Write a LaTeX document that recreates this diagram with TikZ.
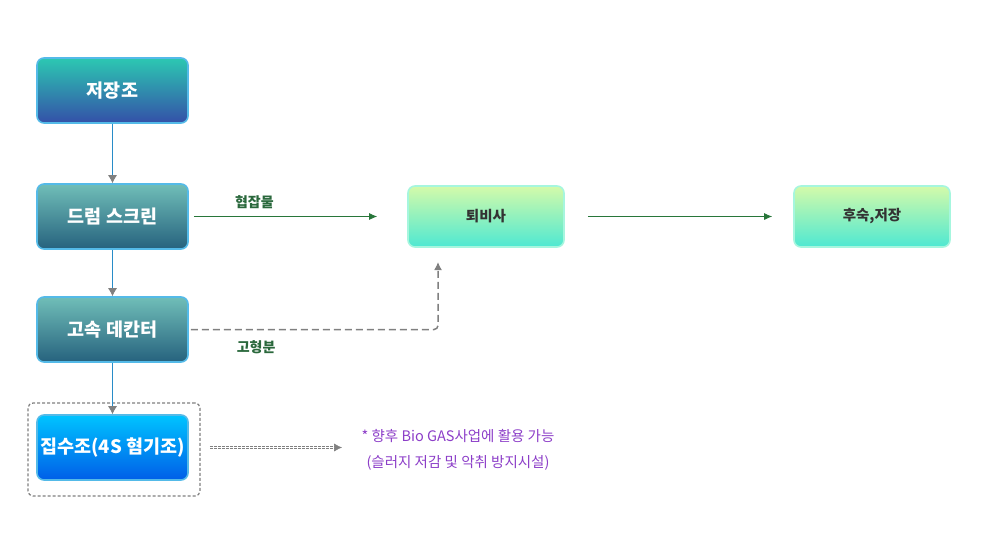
\documentclass[tikz,border=0pt]{standalone}
\usepackage{fontspec}
\setmainfont{Noto Sans CJK KR}
\usetikzlibrary{arrows.meta}
\definecolor{tkA}{RGB}{44,200,178}
\definecolor{tkB}{RGB}{52,80,168}
\definecolor{drA}{RGB}{112,190,184}
\definecolor{drB}{RGB}{38,98,126}
\definecolor{jsA}{RGB}{0,196,255}
\definecolor{jsB}{RGB}{0,94,232}
\definecolor{cpA}{RGB}{212,250,170}
\definecolor{cpB}{RGB}{78,232,210}
\definecolor{edgeblue}{RGB}{84,186,232}
\definecolor{edgemint}{RGB}{166,246,222}
\definecolor{flowblue}{RGB}{40,140,200}
\definecolor{flowgreen}{RGB}{40,118,58}
\definecolor{labgreen}{RGB}{42,104,60}
\definecolor{tipgray}{RGB}{128,128,128}
\definecolor{biopurple}{RGB}{140,62,200}
\begin{document}
\begin{tikzpicture}[x=1pt,y=-1pt,
  procbox/.style={rounded corners=7pt,minimum width=151pt,minimum height=65pt,draw=edgeblue,line width=1.6pt,text=white,font=\fontsize{18.5}{22}\selectfont\bfseries},
  compbox/.style={rounded corners=7pt,minimum width=156pt,minimum height=61pt,draw=edgemint,line width=1.6pt,top color=cpA,bottom color=cpB,text=black!80,font=\fontsize{14.5}{17}\selectfont\bfseries},
  downflow/.style={flowblue,line width=0.8pt,-{Latex[color=tipgray,length=8pt,width=9pt]}},
  greenflow/.style={flowgreen,line width=0.8pt,-{Latex[length=8pt,width=7pt]}},
  grayflow/.style={tipgray,line width=1.5pt,dash pattern=on 7pt off 4pt,rounded corners=4pt,-{Latex[length=8pt,width=8pt]}}]
\useasboundingbox (0,0) rectangle (1000,543);
% process column
\node[procbox,top color=tkA,bottom color=tkB](tank) at (112.5,90.5){저장조};
\node[procbox,top color=drA,bottom color=drB](drum) at (112.5,216.5){드럼 스크린};
\node[procbox,top color=drA,bottom color=drB](deca) at (112.5,329.5){고속 데칸터};
\node[procbox,top color=jsA,bottom color=jsB](sump) at (112.5,447.5){집수조(4S 혐기조)};
\node[draw=tipgray,line width=1.2pt,dash pattern=on 3pt off 2pt,rounded corners=5pt,minimum width=172pt,minimum height=93pt](sumpframe) at (114,449.5){};
% compost side
\node[compbox](comp) at (486,216.5){퇴비사};
\node[compbox](ripe) at (872,216.5){후숙,저장};
\coordinate (compin) at (438,262);
\node[text=biopurple,align=center,font=\fontsize{14.5}{26}\selectfont](bio) at (458,450){* 향후 Bio GAS사업에 활용 가능\\(슬러지 저감 및 악취 방지시설)};
\draw[downflow](tank)--(drum);
\draw[downflow](drum)--(deca);
\draw[downflow](deca)--(sump);
\draw[greenflow,shorten <=5pt,shorten >=30pt](drum.east)--node[pos=0.3,above=4pt,text=labgreen,font=\fontsize{14}{16}\selectfont\bfseries]{협잡물}(comp.west);
\draw[greenflow,shorten <=23pt,shorten >=21pt](comp.east)--(ripe.west);
\draw[grayflow,shorten <=2pt](deca.east)-|node[pos=0.135,below=7pt,text=labgreen,font=\fontsize{14}{16}\selectfont\bfseries]{고형분}(compin);
\draw[tipgray,line width=0.6pt,double=white,double distance=1.6pt,dash pattern=on 3pt off 1pt,shorten <=21pt,shorten >=16pt,-{Latex[length=8pt,width=8pt]}](sump.east)--(sump.east-|bio.west);
\end{tikzpicture}
\end{document}
